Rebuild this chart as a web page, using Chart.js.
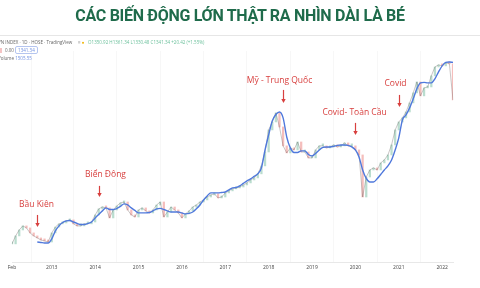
<!DOCTYPE html>
<html>
<head>
<meta charset="utf-8">
<script src="https://cdn.jsdelivr.net/npm/chart.js@4.4.0/dist/chart.umd.min.js"></script>
<style>
html, body { margin: 0; padding: 0; background: #fff; }
#wrap { position: relative; width: 480px; height: 288px; overflow: hidden; font-family: Roboto, "Noto Sans", sans-serif; }
#title { position: absolute; left: 0; top: 6px; width: 480px; text-align: center; font-weight: 700; font-size: 16px; line-height: 20px; color: #1f6b4b; letter-spacing: -0.3px; }
#sep { position: absolute; left: 0; top: 35px; width: 480px; height: 1px; background: #e6e6e6; }
.hd { position: absolute; left: -2px; font-family: "Open Sans", sans-serif; font-size: 4.5px; line-height: 6px; color: #666; white-space: nowrap; }
.hd .g { color: #6cc09c; }
.hd .b { color: #6f8fe0; }
.hd .box { display: inline-block; border: 1px solid #b5c5ef; border-radius: 2px; padding: 0 2px; color: #6f8fe0; }
.hd .red { display: inline-block; width: 4px; height: 5px; background: #f4c4c4; margin-right: 3px; vertical-align: middle; }
#chartbox { position: absolute; left: 0; top: 0; width: 480px; height: 288px; }
</style>
</head>
<body>
<div id="wrap">
  <div id="chartbox"><canvas id="myChart"></canvas></div>
  <div id="title">CÁC BIẾN ĐỘNG LỚN THẬT RA NHÌN DÀI LÀ BÉ</div>
  <div id="sep"></div>
  <div class="hd" style="top:39px;">VN INDEX · 1D · HOSE · TradingView &nbsp;&nbsp;&nbsp;&nbsp;<span style="color:#aaa">≡</span> <span style="color:#f0b400">●</span> &nbsp;&nbsp;<span class="g">O1350.92 H1361.34 L1330.48 C1341.34 +20.42 (+1.55%)</span></div>
  <div class="hd" style="top:46px;"><span class="red"></span>0.00 <span class="box">1341.34</span></div>
  <div class="hd" style="top:55px;">Volume <span class="b">1505.55</span></div>
</div>
<script>
// months on the chart (one candle per month)
const months = [
  '2012-02','2012-03','2012-04','2012-05','2012-06','2012-07','2012-08','2012-09','2012-10','2012-11','2012-12',
  '2013-01','2013-02','2013-03','2013-04','2013-05','2013-06','2013-07','2013-08','2013-09','2013-10','2013-11','2013-12',
  '2014-01','2014-02','2014-03','2014-04','2014-05','2014-06','2014-07','2014-08','2014-09','2014-10','2014-11','2014-12',
  '2015-01','2015-02','2015-03','2015-04','2015-05','2015-06','2015-07','2015-08','2015-09','2015-10','2015-11','2015-12',
  '2016-01','2016-02','2016-03','2016-04','2016-05','2016-06','2016-07','2016-08','2016-09','2016-10','2016-11','2016-12',
  '2017-01','2017-02','2017-03','2017-04','2017-05','2017-06','2017-07','2017-08','2017-09','2017-10','2017-11','2017-12',
  '2018-01','2018-02','2018-03','2018-04','2018-05','2018-06','2018-07','2018-08','2018-09','2018-10','2018-11','2018-12',
  '2019-01','2019-02','2019-03','2019-04','2019-05','2019-06','2019-07','2019-08','2019-09','2019-10','2019-11','2019-12',
  '2020-01','2020-02','2020-03','2020-04','2020-05','2020-06','2020-07','2020-08','2020-09','2020-10','2020-11','2020-12',
  '2021-01','2021-02','2021-03','2021-04','2021-05','2021-06','2021-07','2021-08','2021-09','2021-10','2021-11','2021-12',
  '2022-01','2022-02','2022-03','2022-04'
];

// VN-Index monthly close
const closes = [
  366,417,455,481,468,436,417,404,391,385,378,
  436,474,494,500,513,519,494,481,481,494,494,506,
  551,590,602,596,532,583,609,628,634,583,551,538,
  583,596,577,564,583,615,634,538,570,602,583,564,
  532,558,577,602,615,634,647,666,679,686,660,666,
  692,705,718,724,730,743,756,775,788,814,865,954,
  1095,1146,1204,1114,993,948,980,967,1018,954,954,916,
  916,967,993,993,980,986,999,986,993,1012,993,993,
  967,935,666,794,839,852,839,884,903,935,999,1095,
  1146,1172,1210,1268,1332,1402,1313,1364,1370,1441,1498,1511,
  1505,1524,1518,1287
];

// blue moving average
const maValues = [
  null,null,null,null,null,null,null,378,375,372,372,
  398,449,481,503,513,516,506,497,490,490,497,506,
  532,554,577,596,586,586,593,606,622,615,596,580,
  564,564,564,567,577,590,593,586,577,570,570,570,
  564,558,561,570,590,615,647,673,692,692,692,695,
  698,711,724,727,737,753,769,782,798,814,852,967,
  1063,1153,1194,1210,1172,1050,980,951,951,961,961,938,
  929,945,967,983,986,986,990,996,999,999,996,986,
  967,922,839,785,762,762,782,810,839,865,903,967,
  1044,1159,1191,1236,1294,1358,1396,1399,1396,1396,1422,1466,
  1505,1527,1530,1527
];

const tickMonths = ['2012-02','2013-01','2014-01','2015-01','2016-01','2017-01','2018-01','2019-01','2020-01','2021-01','2022-01'];
const tickLabels = ['Feb','2013','2014','2015','2016','2017','2018','2019','2020','2021','2022'];

const calloutTexts = ['Bầu Kiên','Biển Đông','Mỹ - Trung Quốc','Covid- Toàn Cầu','Covid'];
const calloutMonths = ['2012-09','2014-02','2018-05','2020-01','2021-01'];

document.addEventListener('DOMContentLoaded', function() {
    chart();
});

function chart() {
    // candle bodies: previous close -> close
    let bodies = closes.map(function(c, i) {
        return [i ? closes[i - 1] : c, c];
    });
    let bodyColors = closes.map(function(c, i) {
        return (i && c < closes[i - 1]) ? 'rgba(232,110,106,0.45)' : 'rgba(90,175,140,0.42)';
    });

    // where each callout sits (text offset, text level, arrow start/end levels)
    let calloutPos = [
        { dx: -1, text: 615, from: 551, to: 474 },
        { dx: 6, text: 807, from: 737, to: 666 },
        { dx: -4, text: 1409, from: 1351, to: 1268 },
        { dx: -1, text: 1204, from: 1140, to: 1063 },
        { dx: -4, text: 1390, from: 1319, to: 1242 }
    ];

    let callouts = {
        id: 'callouts',
        afterDatasetsDraw: function(c) {
            let ctx = c.ctx;
            let xs = c.scales.x, ys = c.scales.y;
            ctx.save();
            ctx.fillStyle = '#d8403f';
            ctx.strokeStyle = '#d8403f';
            ctx.lineWidth = 1.2;
            ctx.font = '8.5px "Open Sans", sans-serif';
            ctx.textAlign = 'center';
            ctx.textBaseline = 'middle';
            calloutTexts.forEach(function(t, i) {
                let p = calloutPos[i];
                let x = Math.round(xs.getPixelForValue(months.indexOf(calloutMonths[i]))) + 0.5;
                ctx.fillText(t, x + p.dx, ys.getPixelForValue(p.text));
                let y1 = ys.getPixelForValue(p.from), y2 = ys.getPixelForValue(p.to);
                ctx.beginPath();
                ctx.moveTo(x, y1);
                ctx.lineTo(x, y2 - 3);
                ctx.stroke();
                ctx.beginPath();
                ctx.moveTo(x - 2.2, y2 - 4);
                ctx.lineTo(x + 2.2, y2 - 4);
                ctx.lineTo(x, y2);
                ctx.closePath();
                ctx.fill();
            });
            ctx.restore();
        }
    };

    let ctx = document.getElementById('myChart');
    let myChart = new Chart(ctx, {
        type: 'bar',
        data: {
            labels: months,
            datasets: [{
                type: 'line',
                label: 'MA',
                data: maValues,
                borderColor: '#5079dc',
                borderWidth: 1.4,
                pointRadius: 0,
                cubicInterpolationMode: 'monotone',
                order: 0
            }, {
                type: 'line',
                label: 'Close',
                data: closes,
                borderColor: 'rgba(120,110,110,0.5)',
                borderWidth: 0.8,
                pointRadius: 0,
                tension: 0,
                order: 1
            }, {
                type: 'bar',
                label: 'Candles',
                data: bodies,
                backgroundColor: bodyColors,
                barThickness: 1.6,
                minBarLength: 2,
                order: 2
            }]
        },
        options: {
            responsive: true,
            maintainAspectRatio: false,
            animation: false,
            devicePixelRatio: 1,
            layout: { padding: { top: 51, right: 27, bottom: 0, left: 12 } },
            plugins: {
                legend: { display: false },
                tooltip: { enabled: false }
            },
            scales: {
                x: {
                    offset: false,
                    afterBuildTicks: function(scale) {
                        scale.ticks = scale.ticks.filter(function(t) {
                            return tickMonths.indexOf(months[t.value]) >= 0;
                        });
                    },
                    afterFit: function(scale) {
                        scale.height = 26;
                    },
                    ticks: {
                        autoSkip: false,
                        maxRotation: 0,
                        padding: 3,
                        color: '#444',
                        font: { family: '"Open Sans", sans-serif', size: 5 },
                        callback: function(v) {
                            return tickLabels[tickMonths.indexOf(months[v])];
                        }
                    },
                    grid: {
                        drawTicks: false,
                        color: 'rgba(0,0,0,0.03)'
                    },
                    border: { display: true, color: '#e8e8e8' }
                },
                y: {
                    display: false,
                    min: 250,
                    max: 1600
                }
            }
        },
        plugins: [callouts]
    });
}
</script>
</body>
</html>
